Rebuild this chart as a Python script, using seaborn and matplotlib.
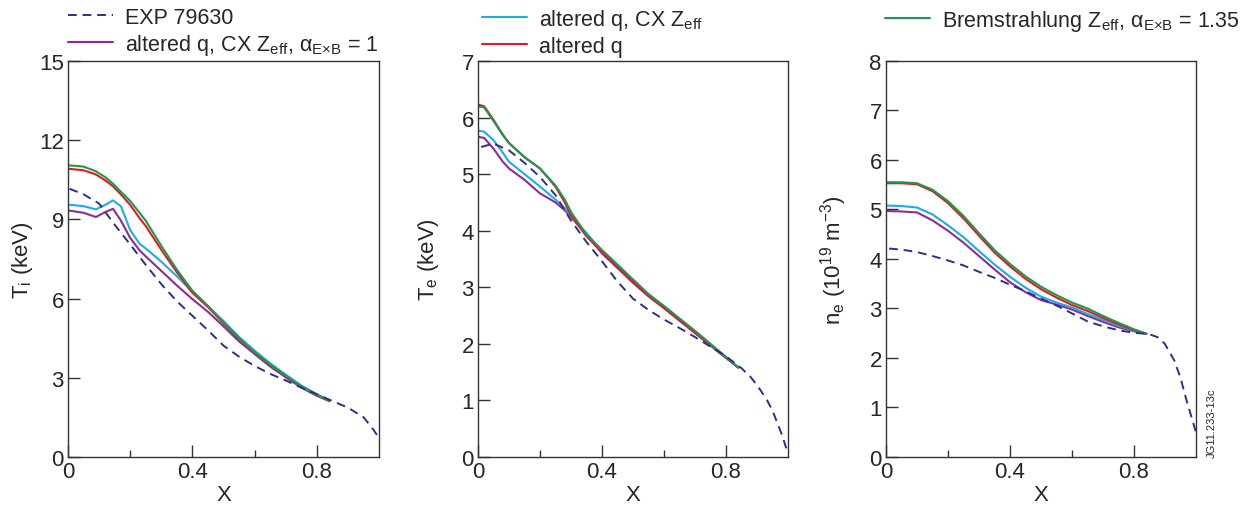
import numpy as np
import pandas as pd
import seaborn as sns
from matplotlib import pyplot as plt

# --- data (x = normalised radius) ---
# panel 1: T_i (keV)
x_exp_ti = [0.005, 0.05, 0.1, 0.15, 0.2, 0.25, 0.3, 0.35, 0.4, 0.45, 0.5, 0.55, 0.6, 0.65, 0.7, 0.75, 0.8, 0.85, 0.9, 0.95, 0.98, 1.0]
ti_exp = [10.16, 9.95, 9.6, 8.8, 8.05, 7.28, 6.55, 5.9, 5.35, 4.8, 4.22, 3.8, 3.45, 3.15, 2.9, 2.63, 2.38, 2.12, 1.87, 1.51, 1.07, 0.72]
x_mod_ti = [0.0, 0.05, 0.09, 0.12, 0.145, 0.17, 0.2, 0.23, 0.25, 0.3, 0.35, 0.4, 0.45, 0.5, 0.55, 0.6, 0.65, 0.7, 0.75, 0.8, 0.84]
ti_brem = [11.05, 11.0, 10.82, 10.6, 10.35, 10.05, 9.7, 9.25, 8.95, 8.0, 7.1, 6.3, 5.72, 5.1, 4.5, 3.97, 3.5, 3.08, 2.68, 2.35, 2.15]
ti_altq = [10.92, 10.86, 10.7, 10.48, 10.25, 9.95, 9.55, 9.05, 8.75, 7.85, 7.0, 6.22, 5.68, 5.06, 4.47, 3.95, 3.48, 3.06, 2.66, 2.33, 2.12]
ti_cx = [9.56, 9.5, 9.38, 9.55, 9.72, 9.5, 8.6, 8.08, 7.9, 7.4, 6.85, 6.25, 5.72, 5.15, 4.55, 4.03, 3.55, 3.12, 2.71, 2.38, 2.15]
ti_cx_exb = [9.34, 9.25, 9.09, 9.28, 9.4, 8.96, 8.3, 7.83, 7.6, 7.05, 6.5, 5.98, 5.5, 4.95, 4.38, 3.9, 3.43, 3.02, 2.63, 2.32, 2.13]

# panel 2: T_e (keV)
x_exp_te = [0.01, 0.05, 0.1, 0.15, 0.2, 0.25, 0.3, 0.35, 0.4, 0.45, 0.5, 0.55, 0.6, 0.65, 0.7, 0.75, 0.8, 0.85, 0.88, 0.9, 0.93, 0.95, 0.98, 1.0]
te_exp = [5.48, 5.54, 5.42, 5.2, 4.95, 4.63, 4.18, 3.8, 3.46, 3.1, 2.8, 2.6, 2.43, 2.28, 2.12, 1.95, 1.78, 1.57, 1.41, 1.27, 1.03, 0.82, 0.4, 0.06]
x_mod_te = [0.0, 0.02, 0.05, 0.08, 0.1, 0.15, 0.2, 0.25, 0.28, 0.3, 0.35, 0.4, 0.45, 0.5, 0.55, 0.6, 0.65, 0.7, 0.75, 0.8, 0.84]
te_brem = [6.2, 6.18, 5.94, 5.69, 5.55, 5.3, 5.1, 4.8, 4.55, 4.33, 3.93, 3.66, 3.4, 3.14, 2.88, 2.67, 2.45, 2.23, 2.0, 1.77, 1.58]
te_altq = [6.23, 6.2, 5.96, 5.7, 5.55, 5.3, 5.1, 4.78, 4.5, 4.27, 3.9, 3.62, 3.36, 3.1, 2.85, 2.64, 2.42, 2.2, 1.98, 1.76, 1.58]
te_cx = [5.77, 5.75, 5.6, 5.38, 5.22, 5.0, 4.78, 4.55, 4.4, 4.25, 3.96, 3.63, 3.38, 3.12, 2.87, 2.66, 2.44, 2.22, 1.99, 1.76, 1.58]
te_cx_exb = [5.66, 5.64, 5.45, 5.22, 5.1, 4.9, 4.66, 4.5, 4.36, 4.24, 3.94, 3.6, 3.34, 3.08, 2.84, 2.63, 2.41, 2.19, 1.97, 1.75, 1.58]

# panel 3: n_e (1e19 m^-3)
x_exp_ne = [0.01, 0.05, 0.1, 0.15, 0.2, 0.25, 0.3, 0.35, 0.4, 0.45, 0.5, 0.55, 0.6, 0.65, 0.7, 0.75, 0.8, 0.85, 0.88, 0.9, 0.93, 0.95, 0.97, 1.0]
ne_exp = [4.21, 4.19, 4.14, 4.06, 3.97, 3.87, 3.74, 3.62, 3.48, 3.35, 3.2, 3.06, 2.9, 2.74, 2.64, 2.56, 2.51, 2.48, 2.41, 2.28, 1.95, 1.6, 1.13, 0.5]
x_mod_ne = [0.0, 0.05, 0.1, 0.15, 0.2, 0.25, 0.3, 0.35, 0.4, 0.45, 0.5, 0.55, 0.6, 0.65, 0.7, 0.75, 0.8, 0.84]
ne_brem = [5.55, 5.55, 5.53, 5.4, 5.17, 4.87, 4.52, 4.18, 3.9, 3.65, 3.44, 3.27, 3.12, 3.0, 2.85, 2.71, 2.58, 2.49]
ne_altq = [5.53, 5.53, 5.51, 5.37, 5.13, 4.82, 4.47, 4.13, 3.85, 3.6, 3.39, 3.22, 3.07, 2.95, 2.81, 2.68, 2.56, 2.49]
ne_cx = [5.08, 5.07, 5.04, 4.9, 4.68, 4.44, 4.16, 3.89, 3.64, 3.42, 3.24, 3.12, 3.02, 2.89, 2.77, 2.65, 2.55, 2.49]
ne_cx_exb = [4.97, 4.96, 4.94, 4.78, 4.57, 4.33, 4.06, 3.79, 3.53, 3.33, 3.17, 3.08, 2.98, 2.85, 2.73, 2.62, 2.54, 2.49]

lbl_exp = 'EXP 79630'
lbl_cx_exb = r'altered q, CX Z$_{\rm eff}$, α$_{\rm E{\times}B}$ = 1'
lbl_cx = r'altered q, CX Z$_{\rm eff}$'
lbl_altq = 'altered q'
lbl_brem = r'Bremstrahlung Z$_{\rm eff}$, α$_{\rm E{\times}B}$ = 1.35'

c_exp = '#2e2e8c'
c_cx_exb = '#8e2a9a'
c_cx = '#18aeea'
c_altq = '#e5191e'
c_brem = '#1b9a4f'

sns.set_style('ticks')
plt.rcParams['font.family'] = ['Liberation Sans', 'DejaVu Sans']
plt.rcParams['mathtext.fontset'] = 'custom'
plt.rcParams['mathtext.rm'] = 'Liberation Sans'
plt.rcParams['mathtext.it'] = 'Liberation Sans:italic'

fig = plt.figure(figsize=(12.47, 5.06), dpi=100)
ax1 = fig.add_axes([0.0545, 0.0949, 0.2494, 0.7826])
ax2 = fig.add_axes([0.3833, 0.0949, 0.2486, 0.7826])
ax3 = fig.add_axes([0.7105, 0.0949, 0.2486, 0.7826])

panels = [
    (ax1, x_exp_ti, ti_exp, x_mod_ti, [ti_cx_exb, ti_cx, ti_altq, ti_brem], r'T$_{\rm i}$ (keV)', 15, np.arange(0, 16, 3), -0.107),
    (ax2, x_exp_te, te_exp, x_mod_te, [te_cx_exb, te_cx, te_altq, te_brem], r'T$_{\rm e}$ (keV)', 7, np.arange(0, 8, 1), -0.12),
    (ax3, x_exp_ne, ne_exp, x_mod_ne, [ne_cx_exb, ne_cx, ne_altq, ne_brem], r'n$_{\rm e}$ (10$^{19}$ m$^{-3}$)', 8, np.arange(0, 9, 1), -0.12),
]
mod_colors = [c_cx_exb, c_cx, c_altq, c_brem]
mod_labels = [lbl_cx_exb, lbl_cx, lbl_altq, lbl_brem]

for ax, xe, ye, xm, models, ylab, ymax, yt, ylx in panels:
    for ym, col, lab in zip(models, mod_colors, mod_labels):
        sns.lineplot(x=xm, y=ym, ax=ax, color=col, lw=1.5, label=lab, legend=False)
    sns.lineplot(x=xe, y=ye, ax=ax, color=c_exp, lw=1.4, label=lbl_exp, legend=False,
                 linestyle=(0, (4.5, 3)))
    ax.set_xlim(0, 1)
    ax.set_ylim(0, ymax)
    ax.set_yticks(yt)
    ax.set_xticks([0, 0.4, 0.8])
    ax.set_xticklabels(['0', '0.4', '0.8'])
    ax.set_xticks([0.2, 0.6], minor=True)
    ax.tick_params(axis='both', which='major', direction='in', length=8.5, width=1,
                   labelsize=16, pad=3, color='#333333', top=False, right=False)
    ax.tick_params(axis='x', which='minor', direction='in', length=5, width=1, color='#333333')
    ax.set_xlabel('X', fontsize=16, labelpad=1)
    ax.set_ylabel(ylab, fontsize=16)
    ax.yaxis.set_label_coords(ylx, 0.5)
    for sp in ax.spines.values():
        sp.set_visible(True)
        sp.set_color('#333333')
        sp.set_linewidth(1.0)

# legends split over the three panels, above each axes
h, l = ax1.get_legend_handles_labels()
hd = dict(zip(l, h))
leg_kw = dict(frameon=False, fontsize=15.5, handlelength=2.1, handletextpad=0.55,
              labelspacing=0.2, borderaxespad=0, borderpad=0, loc='upper left',
              bbox_transform=fig.transFigure)
ax1.legend([hd[lbl_exp], hd[lbl_cx_exb]], [lbl_exp, lbl_cx_exb], bbox_to_anchor=(0.0545, 0.985), **leg_kw)
ax2.legend([hd[lbl_cx], hd[lbl_altq]], [lbl_cx, lbl_altq], bbox_to_anchor=(0.3865, 0.985), **leg_kw)
ax3.legend([hd[lbl_brem]], [lbl_brem], bbox_to_anchor=(0.7097, 0.983), **leg_kw)

fig.text(0.9675, 0.0949, 'JG11.233-13c', rotation=90, fontsize=8, ha='left', va='bottom')

fig.savefig('out.png', dpi=100)
